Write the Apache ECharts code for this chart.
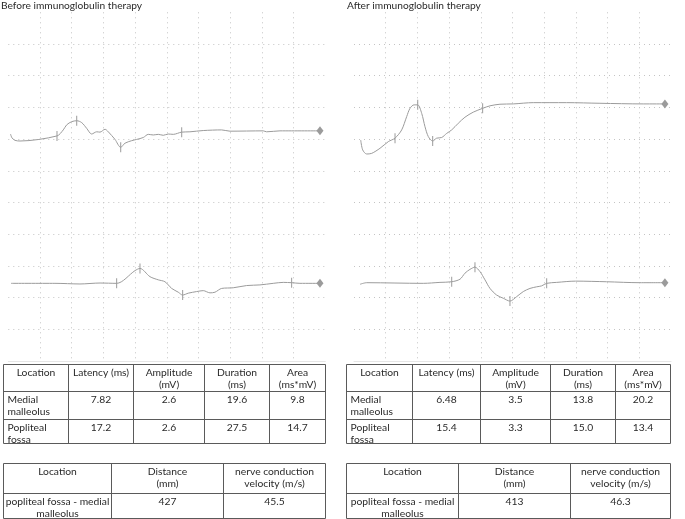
<!DOCTYPE html>
<html lang="en">
<head>
<meta charset="UTF-8">
<title>Immunoglobulin therapy - tibial nerve</title>
<script src="https://cdn.jsdelivr.net/npm/echarts@6/dist/echarts.min.js"></script>
<style>
  html, body { margin: 0; padding: 0; background: #fff; }
</style>
</head>
<body>
<div id="main" style="width: 685px;height:519px;"></div>

<script type="text/javascript">
// traces: x in ms (5 ms per division), y in divisions from the bottom of the screen
var beforeMedial = [[0.35,7.16],[0.58,7.04],[1.06,6.96],[1.85,6.94],[7.68,7.10],[8.67,7.29],[9.21,7.45],[10.0,7.55],
    [10.79,7.58],[11.58,7.52],[12.36,7.34],[13.15,7.16],[13.94,7.23],[14.46,7.22],[15.25,7.31],[15.77,7.23],
    [16.83,6.99],[17.73,6.74],[18.40,6.87],[19.46,6.95],[20.25,6.99],[21.29,7.05],[22.08,7.15],[22.87,7.13],
    [23.66,7.15],[24.44,7.12],[25.23,7.16],[26.02,7.15],[27.35,7.22],[28.65,7.23],[30.75,7.27],[33.65,7.29],
    [34.96,7.25],[40.21,7.26],[40.75,7.23],[42.85,7.26],[49.16,7.26]];
var beforePopliteal = [[0.43,2.45],[7.36,2.45],[11.3,2.43],[14.47,2.46],[17.09,2.45],[19.98,2.85],[20.77,2.92],
    [22.35,2.66],[23.66,2.56],[24.71,2.50],[25.77,2.29],[26.81,2.17],[27.50,2.08],[28.39,2.14],[29.71,2.19],
    [30.75,2.22],[31.81,2.15],[32.60,2.17],[33.65,2.29],[35.48,2.31],[37.60,2.38],[39.69,2.40],[41.79,2.45],
    [43.37,2.48],[44.69,2.47],[46.0,2.45],[49.16,2.45]];
var afterMedial = [[1.06,6.97],[1.37,6.66],[2.00,6.53],[2.79,6.55],[4.10,6.71],[5.41,6.92],[6.47,7.03],[7.52,7.29],
    [8.31,7.71],[8.83,7.97],[9.46,8.08],[10.05,8.08],[10.68,7.81],[11.20,7.39],[11.72,7.08],[12.41,6.94],
    [13.04,7.03],[13.83,7.05],[14.62,7.18],[15.41,7.29],[16.45,7.50],[17.50,7.69],[18.81,7.85],[20.29,7.97],
    [21.45,8.05],[23.02,8.10],[25.12,8.11],[28.28,8.15],[33.54,8.15],[38.79,8.13],[45.62,8.11],[49.04,8.11]];
var afterPopliteal = [[0.95,2.42],[2.00,2.47],[10.93,2.45],[13.56,2.48],[15.41,2.50],[16.72,2.58],[17.50,2.77],
    [18.29,2.89],[19.08,2.96],[19.87,2.82],[20.66,2.56],[21.45,2.29],[22.50,2.08],[23.54,1.98],[24.60,1.89],
    [25.66,2.03],[26.70,2.19],[27.76,2.29],[28.81,2.34],[29.60,2.37],[30.39,2.45],[31.97,2.48],[34.96,2.52],
    [39.85,2.50],[45.10,2.47],[49.04,2.47]];

// cursor marks (onset, peak, trough, end) and end-of-sweep markers
var beforeCursors = [[7.68,7.10],[10.79,7.58],[17.73,6.74],[27.35,7.22],[17.09,2.45],[20.77,2.92],[27.50,2.08],[44.69,2.47]];
var afterCursors = [[6.47,7.03],[10.05,8.08],[12.41,6.94],[20.29,7.97],[15.41,2.50],[19.08,2.96],[24.60,1.89],[30.39,2.45]];
var beforeEnds = [[49.16,7.26],[49.16,2.45]];
var afterEnds = [[49.04,8.11],[49.04,2.47]];

var titles = ['Before immunoglobulin therapy', 'After immunoglobulin therapy'];

// tables
var motorHeader = ['Location', 'Latency (ms)', 'Amplitude\n(mV)', 'Duration\n(ms)', 'Area\n(ms*mV)'];
var sites = ['Medial\nmalleolus', 'Popliteal\nfossa'];
var latencyBefore = ['7.82', '17.2'];
var amplitudeBefore = ['2.6', '2.6'];
var durationBefore = ['19.6', '27.5'];
var areaBefore = ['9.8', '14.7'];
var latencyAfter = ['6.48', '15.4'];
var amplitudeAfter = ['3.5', '3.3'];
var durationAfter = ['13.8', '15.0'];
var areaAfter = ['20.2', '13.4'];

var ncvHeader = ['Location', 'Distance\n(mm)', 'nerve conduction\nvelocity (m/s)'];
var segment = 'popliteal fossa - medial\nmalleolus';
var distance = ['427', '413'];
var velocity = ['45.5', '46.3'];

var FONT = 'Lato';
var textColor = '#2a2a2a';
var traceColor = '#9b9b9b';

function motorRows(lat, amp, dur, area) {
    var rows = [motorHeader];
    for (var i = 0; i < sites.length; i++) {
        rows.push([sites[i], lat[i], amp[i], dur[i], area[i]]);
    }
    return rows;
}

// builds the lines and texts of one table
function table(cols, rows, cells, leftFirstCol) {
    var els = [];
    var x0 = cols[0], x1 = cols[cols.length - 1];
    var y0 = rows[0], y1 = rows[rows.length - 1];
    rows.forEach(function (y) {
        els.push({ type: 'line', shape: { x1: x0, y1: y, x2: x1, y2: y }, style: { stroke: '#5a5a5a', lineWidth: 1 } });
    });
    cols.forEach(function (x) {
        els.push({ type: 'line', shape: { x1: x, y1: y0, x2: x, y2: y1 }, style: { stroke: '#5a5a5a', lineWidth: 1 } });
    });
    cells.forEach(function (row, r) {
        row.forEach(function (txt, c) {
            var left = r > 0 && c === 0 && leftFirstCol;
            els.push({
                type: 'text',
                x: left ? cols[c] + 4 : (cols[c] + cols[c + 1]) / 2,
                y: rows[r] + 2.5,
                style: {
                    text: txt, fill: textColor, fontSize: 10.3, fontFamily: FONT,
                    align: left ? 'left' : 'center', verticalAlign: 'top', lineHeight: 12
                }
            });
        });
    });
    return els;
}

var graphics = []
    .concat(table([3.5, 68.5, 133.5, 204.5, 269.5, 325.5], [364.5, 391.5, 419.5, 443.5],
        motorRows(latencyBefore, amplitudeBefore, durationBefore, areaBefore), true))
    .concat(table([346.5, 412.5, 480.5, 550.5, 615.5, 670.5], [364.5, 391.5, 419.5, 443.5],
        motorRows(latencyAfter, amplitudeAfter, durationAfter, areaAfter), true))
    .concat(table([3.5, 111.5, 223.5, 325.5], [463.5, 493.5, 518.5],
        [ncvHeader, [segment, distance[0], velocity[0]]], false))
    .concat(table([346.5, 458.5, 570.5, 670.5], [463.5, 493.5, 518.5],
        [ncvHeader, [segment, distance[1], velocity[1]]], false));

var dotted = { color: '#c4c4c4', width: 1, type: [1, 4] };

function xAx(idx) {
    return {
        type: 'value', gridIndex: idx, min: 0, max: 50, interval: 5, position: 'top',
        axisLine: { show: true, lineStyle: { color: '#e6e6e6' } },
        axisTick: { show: false }, axisLabel: { show: false },
        splitLine: { show: true, showMinLine: false, showMaxLine: false, lineStyle: dotted }
    };
}
function yAx(idx) {
    return {
        type: 'value', gridIndex: idx, min: 0, max: 11, interval: 1,
        axisLine: { show: false }, axisTick: { show: false }, axisLabel: { show: false },
        splitLine: { show: true, showMinLine: true, showMaxLine: false, lineStyle: dotted }
    };
}
function trace(idx, data) {
    return {
        type: 'line', xAxisIndex: idx, yAxisIndex: idx, data: data, smooth: 0.3,
        symbol: 'none', lineStyle: { color: traceColor, width: 1 }, silent: true
    };
}
function marks(idx, data, symbol, size) {
    return {
        type: 'scatter', xAxisIndex: idx, yAxisIndex: idx, data: data, symbol: symbol,
        symbolSize: size, itemStyle: { color: traceColor, opacity: 1 }, silent: true
    };
}

var myChart = echarts.init(document.getElementById('main'));
var titleStyle = { fontSize: 10.2, fontWeight: 'normal', color: textColor, fontFamily: FONT };
var option = {
    animation: false,
    title: [
        { text: titles[0], left: 1, top: 0.5, padding: 0, textStyle: titleStyle },
        { text: titles[1], left: 347, top: 0.5, padding: 0, textStyle: titleStyle }
    ],
    grid: [
        { left: 8.3, top: 12.3, width: 317, height: 348.7 },
        { left: 354, top: 12.3, width: 317, height: 348.7 }
    ],
    xAxis: [xAx(0), xAx(1)],
    yAxis: [yAx(0), yAx(1)],
    series: [
        trace(0, beforeMedial), trace(0, beforePopliteal),
        trace(1, afterMedial), trace(1, afterPopliteal),
        marks(0, beforeCursors, 'rect', [1, 10]), marks(1, afterCursors, 'rect', [1, 10]),
        marks(0, beforeEnds, 'diamond', [7, 9]), marks(1, afterEnds, 'diamond', [7, 9])
    ],
    graphic: graphics
};
myChart.setOption(option);
</script>
</body>
</html>
